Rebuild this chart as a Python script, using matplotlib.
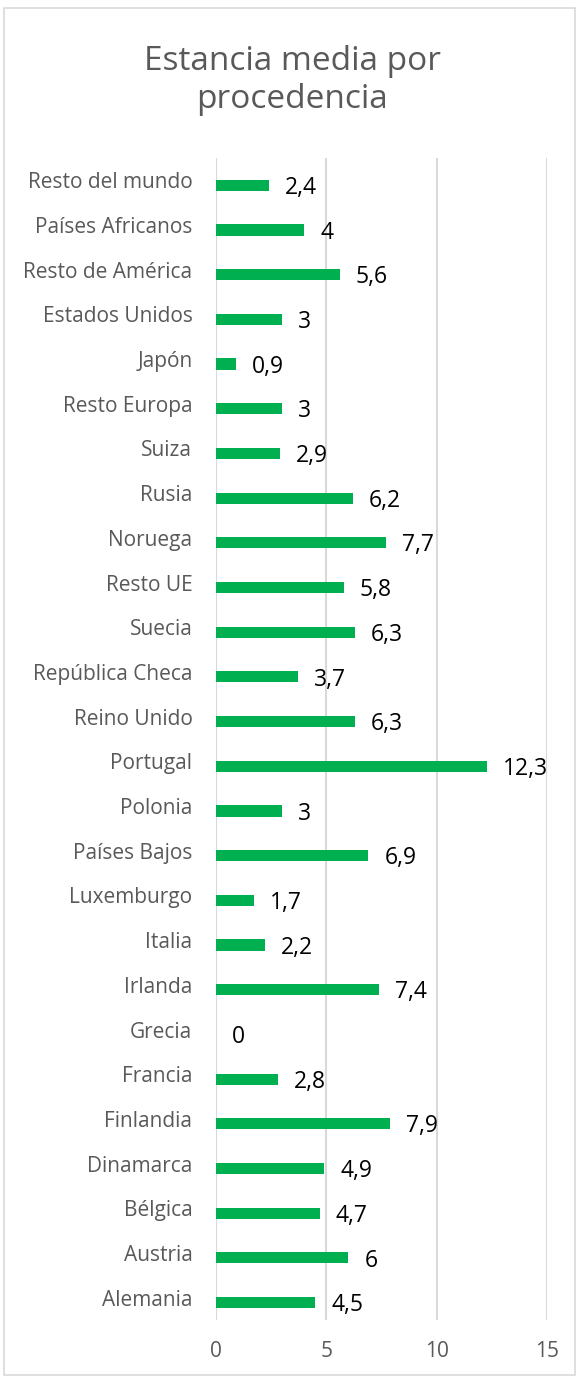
import matplotlib
matplotlib.use("Agg")
import matplotlib.pyplot as plt
import numpy as np
from matplotlib.patches import Rectangle

categories = ["Alemania", "Austria", "Bélgica", "Dinamarca", "Finlandia", "Francia",
              "Grecia", "Irlanda", "Italia", "Luxemburgo", "Países Bajos", "Polonia",
              "Portugal", "Reino Unido", "República Checa", "Suecia", "Resto UE",
              "Noruega", "Rusia", "Suiza", "Resto Europa", "Japón", "Estados Unidos",
              "Resto de América", "Países Africanos", "Resto del mundo"]
values = [4.5, 6, 4.7, 4.9, 7.9, 2.8, 0, 7.4, 2.2, 1.7, 6.9, 3, 12.3, 6.3, 3.7,
          6.3, 5.8, 7.7, 6.2, 2.9, 3, 0.9, 3, 5.6, 4, 2.4]
xticks = [0, 5, 10, 15]
title = "Estancia media por\nprocedencia"

plt.rcParams['font.family'] = ['Open Sans', 'DejaVu Sans']
GRAY = "#595959"
GREEN = "#00B050"

W, H = 576, 1378
fig = plt.figure(figsize=(W / 100, H / 100), dpi=100)
fig.patch.set_facecolor("white")

# chart border
fig.patches.append(Rectangle((4 / W, 3 / H), (W - 5) / W, (H - 11) / H,
                             transform=fig.transFigure, fill=False,
                             edgecolor="#D9D9D9", linewidth=1.2))

left, right, top, bottom = 216, 547, 158, 1320
ax = fig.add_axes([left / W, 1 - bottom / H, (right - left) / W, (bottom - top) / H])

y = np.arange(len(categories))
ax.barh(y - 0.11, values, height=0.25, color=GREEN, zorder=3)

for yi, v in zip(y, values):
    ax.annotate(f"{v:g}".replace(".", ","), (v, yi - 0.17), xytext=(16, 0),
                textcoords="offset pixels", va="center", ha="left",
                fontsize=16.5, color="black")

ax.set_xlim(0, 15)
ax.set_ylim(-0.5, len(categories) - 0.5)
ax.set_xticks(xticks)
ax.set_xticklabels([str(t) for t in xticks], fontsize=15, color=GRAY)
ax.set_yticks(y)
ax.set_yticklabels(categories, fontsize=15, color=GRAY)
ax.tick_params(axis="both", length=0)
ax.tick_params(axis="x", pad=15)
ax.tick_params(axis="y", pad=17)
ax.grid(axis="x", color="#D9D9D9", linewidth=1.5, zorder=0)
ax.set_axisbelow(True)
for s in ax.spines.values():
    s.set_visible(False)

fig.text(292 / W, 1 - 80 / H, title, ha="center", va="center",
         fontsize=24, color=GRAY, linespacing=1.2)

fig.savefig("out.png", dpi=100)
